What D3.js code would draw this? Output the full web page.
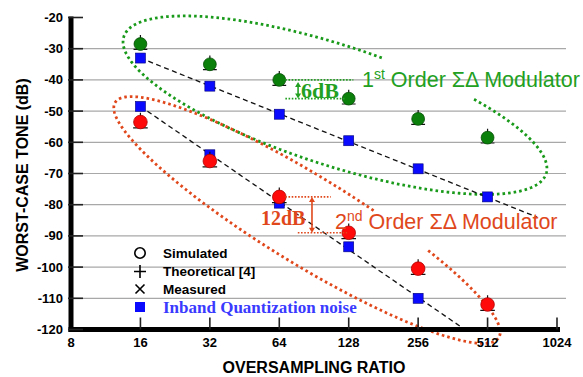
<!DOCTYPE html>
<html>
<head>
<meta charset="utf-8" />
<script src="https://d3js.org/d3.v7.min.js"></script>
<style>
  body { margin: 0; background: #fff; }
  svg { font-family: "Liberation Sans", Arial, sans-serif; }
</style>
</head>
<body>
<svg id="chart" width="583" height="377"></svg>
<script>
// oversampling ratios and worst-case tone values (dB)
const ratios = [16, 32, 64, 128, 256, 512];
const firstSimulated = [-28.5, -35, -40, -46, -52.5, -58.5];
const firstNoise = [-33, -42, -51, -59.5, -68.5, -77.5];
const secondSimulated = [-53.5, -66, -77.5, -89, -100.5, -112];
const secondNoise = [-48.5, -64, -79.5, -93.5, -110];
// dashed fit lines through the noise points
const firstFit = [[16, -33], [840, -84]];
const secondFit = [[16, -48.5], [390, -119]];
const xTicks = [8, 16, 32, 64, 128, 256, 512, 1024];
const yTicks = [-20, -30, -40, -50, -60, -70, -80, -90, -100, -110, -120];
const legendLabels = ['Simulated', 'Theoretical [4]', 'Measured', 'Inband Quantization noise'];

const GREEN_TXT = '#22a022', RED = '#ff0a0a', ORANGE = '#e0481c', BLUE = '#0a0aff';

const svg = d3.select('#chart');
const x = d3.scaleLog().base(2).domain([8, 1024]).range([71, 557]);
const y = d3.scaleLinear().domain([-120, -20]).range([329.5, 17.5]);

// gridlines
svg.append('g').selectAll('line')
  .data(yTicks.filter(d => d > -120 && d < -20))
  .enter().append('line')
  .attr('x1', x(8)).attr('x2', 566)
  .attr('y1', d => y(d)).attr('y2', d => y(d))
  .attr('stroke', '#a8a8a8').attr('stroke-width', 1.2);

// dotted ellipses (center in data space, radii in px)
function ellipsePath(cx, cy, a, b, rot, t0, t1) {
  const phi = rot * Math.PI / 180, pts = [];
  for (let t = t0; t <= t1; t += 1) {
    const th = t * Math.PI / 180;
    const ex = a * Math.cos(th), ey = b * Math.sin(th);
    pts.push([cx + ex * Math.cos(phi) - ey * Math.sin(phi), cy + ex * Math.sin(phi) + ey * Math.cos(phi)]);
  }
  return d3.line()(pts);
}
svg.append('path')
  .attr('d', ellipsePath(x(111.6), y(-48.1), 222, 60, 18, -54, 278))
  .attr('fill', 'none').attr('stroke', '#1a9a1a').attr('stroke-width', 2.8)
  .attr('stroke-dasharray', '2.6,3');
svg.append('path')
  .attr('d', ellipsePath(x(84.4), y(-84.9), 225, 44, 31.5, -58, 284))
  .attr('fill', 'none').attr('stroke', ORANGE).attr('stroke-width', 2.8)
  .attr('stroke-dasharray', '2.6,3');

// dashed fit lines
const line = d3.line().x(d => x(d[0])).y(d => y(d[1]));
[firstFit, secondFit].forEach(f => {
  svg.append('path').attr('d', line(f))
    .attr('fill', 'none').attr('stroke', '#111').attr('stroke-width', 1.3)
    .attr('stroke-dasharray', '5,3.5');
});

// axes
svg.append('line').attr('x1', x(8)).attr('x2', x(8)).attr('y1', y(-20) - 1).attr('y2', y(-120) + 2.5)
  .attr('stroke', '#000').attr('stroke-width', 5);
svg.append('line').attr('x1', x(8) - 2.5).attr('x2', x(1024) + 3).attr('y1', y(-120)).attr('y2', y(-120))
  .attr('stroke', '#000').attr('stroke-width', 5);
svg.append('g').selectAll('line').data(yTicks).enter().append('line')
  .attr('x1', x(8) - 3).attr('x2', x(8) + 12)
  .attr('y1', d => y(d)).attr('y2', d => y(d))
  .attr('stroke', '#222').attr('stroke-width', 1.6);
svg.append('g').selectAll('line').data(xTicks.slice(1)).enter().append('line')
  .attr('x1', d => x(d)).attr('x2', d => x(d))
  .attr('y1', y(-120)).attr('y2', y(-120) - 12)
  .attr('stroke', '#222').attr('stroke-width', 1.6);
svg.append('g').selectAll('text').data(yTicks).enter().append('text')
  .attr('x', 63).attr('y', d => y(d) + 4.5)
  .attr('text-anchor', 'end').attr('font-size', 13).attr('font-weight', 'bold')
  .text(d => d);
svg.append('g').selectAll('text').data(xTicks).enter().append('text')
  .attr('x', d => x(d)).attr('y', 347)
  .attr('text-anchor', 'middle').attr('font-size', 13).attr('font-weight', 'bold')
  .text(d => d);
svg.append('text').attr('x', 314).attr('y', 373).attr('text-anchor', 'middle')
  .attr('font-size', 16).attr('font-weight', 'bold').text('OVERSAMPLING RATIO');
svg.append('text').attr('transform', 'translate(28,' + 175 + ') rotate(-90)')
  .attr('text-anchor', 'middle').attr('font-size', 16).attr('font-weight', 'bold')
  .text('WORST-CASE TONE (dB)');

// markers
function squares(vals, color) {
  svg.append('g').selectAll('rect').data(vals).enter().append('rect')
    .attr('x', (d, i) => x(ratios[i]) - 5).attr('y', d => y(d) - 5)
    .attr('width', 10).attr('height', 10)
    .attr('fill', color).attr('stroke', '#00007a').attr('stroke-width', 0.6);
}
function circles(vals, fill, edge, r) {
  const g = svg.append('g');
  // theoretical (+) and measured (x) sit mostly hidden under the simulated circle
  g.selectAll('path.t').data(vals).enter().append('path')
    .attr('d', (d, i) => {
      const cx = x(ratios[i]), cy = y(d);
      return `M${cx},${cy - r - 2.5}V${cy}M${cx - r - 0.5},${cy + r - 1}L${cx + r + 0.5},${cy + r - 1}`;
    })
    .attr('stroke', '#111').attr('stroke-width', 1.2);
  g.selectAll('circle').data(vals).enter().append('circle')
    .attr('cx', (d, i) => x(ratios[i])).attr('cy', d => y(d)).attr('r', r)
    .attr('fill', fill).attr('stroke', edge).attr('stroke-width', 0.8);
}
squares(firstNoise, BLUE);
squares(secondNoise, BLUE);
circles(firstSimulated, '#0b800b', '#064d06', 6.4);
circles(secondSimulated, RED, '#b00000', 6.8);

// 6dB annotation
const dot = (sel, c) => sel.attr('stroke', c).attr('stroke-width', 1.6).attr('stroke-dasharray', '1.6,1.6');
dot(svg.append('line').attr('x1', x(64) + 6).attr('x2', x(134)).attr('y1', y(-40)).attr('y2', y(-40)), GREEN_TXT);
dot(svg.append('line').attr('x1', x(68)).attr('x2', x(124)).attr('y1', y(-46)).attr('y2', y(-46)), GREEN_TXT);
function arrow(xp, y1, y2, c) {
  svg.append('line').attr('x1', xp).attr('x2', xp).attr('y1', y1 + 2).attr('y2', y2 - 2)
    .attr('stroke', c).attr('stroke-width', 1.6);
  svg.append('path').attr('d', `M${xp - 3},${y1 + 5}L${xp},${y1}L${xp + 3},${y1 + 5}Z M${xp - 3},${y2 - 5}L${xp},${y2}L${xp + 3},${y2 - 5}Z`)
    .attr('fill', c);
}
arrow(x(77.2), y(-40) + 2, y(-46), GREEN_TXT);
svg.append('text').attr('x', x(77.2) + 3).attr('y', y(-46) - 1)
  .attr('font-family', '"Liberation Serif", serif').attr('font-weight', 'bold').attr('font-size', 22)
  .attr('fill', GREEN_TXT).text('6dB');

// 12dB annotation
dot(svg.append('line').attr('x1', x(64) + 6).attr('x2', x(107)).attr('y1', y(-77.5)).attr('y2', y(-77.5)), ORANGE);
dot(svg.append('line').attr('x1', x(77)).attr('x2', x(126)).attr('y1', y(-89)).attr('y2', y(-89)), ORANGE);
arrow(x(88.7), y(-77.5), y(-89), ORANGE);
svg.append('text').attr('x', 261).attr('y', 225)
  .attr('font-family', '"Liberation Serif", serif').attr('font-weight', 'bold').attr('font-size', 20)
  .attr('fill', ORANGE).text('12dB');

// modulator labels
function modLabel(xp, yp, num, sup, c) {
  const t = svg.append('text').attr('x', xp).attr('y', yp).attr('font-size', 21.5).attr('fill', c);
  t.append('tspan').text(num);
  t.append('tspan').attr('font-size', 14).attr('dy', -8).text(sup);
  t.append('tspan').attr('dy', 8).text(' Order \u03A3\u0394 Modulator');
}
modLabel(362, 87, '1', 'st', GREEN_TXT);
modLabel(335, 229, '2', 'nd', ORANGE);

// legend
const lg = svg.append('g').attr('transform', 'translate(140,253)');
lg.append('circle').attr('cx', 0).attr('cy', 0).attr('r', 5.2).attr('fill', 'none').attr('stroke', '#000').attr('stroke-width', 1.6);
lg.append('path').attr('d', 'M0,12V25M-6,18.5H6').attr('stroke', '#000').attr('stroke-width', 1.6);
lg.append('path').attr('d', 'M-4.5,31.5L4.5,40.5M-4.5,40.5L4.5,31.5').attr('stroke', '#000').attr('stroke-width', 1.6);
lg.append('rect').attr('x', -5).attr('y', 49).attr('width', 10).attr('height', 10).attr('fill', BLUE);
lg.selectAll('text.l').data(legendLabels.slice(0, 3)).enter().append('text')
  .attr('x', 23).attr('y', (d, i) => 5 + i * 18)
  .attr('font-size', 13.5).attr('font-weight', 'bold').text(d => d);
lg.append('text').attr('x', 23).attr('y', 60)
  .attr('font-family', '"Liberation Serif", serif').attr('font-weight', 'bold').attr('font-size', 17)
  .attr('fill', '#3a3aff').text(legendLabels[3]);
</script>
</body>
</html>
